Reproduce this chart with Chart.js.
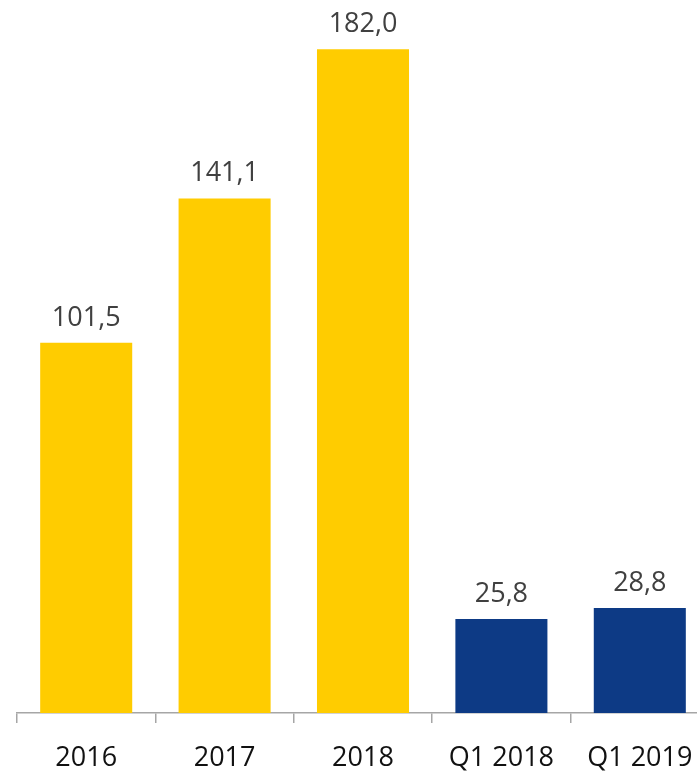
<!DOCTYPE html>
<html lang="en">
<head>
<meta charset="UTF-8" />
<title>Revenue</title>
<script src="https://cdn.jsdelivr.net/npm/chart.js"></script>
<style>
  html, body { margin: 0; padding: 0; background: #fff; overflow: hidden; }
  #wrap { width: 697px; height: 771px; overflow: hidden; }
</style>
</head>
<body>
<div id="wrap">
  <canvas id="myChart" width="709" height="771"></canvas>
</div>
<script>
  const categories = ["2016", "2017", "2018", "Q1 2018", "Q1 2019"];
  const values = [101.5, 141.1, 182.0, 25.8, 28.8];

  const YELLOW = "#FFCC00";
  const BLUE = "#0D3A85";
  const AXIS = "#a6a6a6";
  const FONT = "'Open Sans', 'Noto Sans', sans-serif";

  // value labels above each bar, decimal comma
  const valueLabels = {
    id: "valueLabels",
    afterDatasetsDraw(chart) {
      const ctx = chart.ctx;
      const meta = chart.getDatasetMeta(0);
      ctx.save();
      ctx.font = "27px " + FONT;
      ctx.fillStyle = "#404040";
      ctx.textAlign = "center";
      ctx.textBaseline = "alphabetic";
      meta.data.forEach((bar, i) => {
        const txt = values[i].toFixed(1).replace(".", ",");
        ctx.fillText(txt, bar.x, bar.y - 17);
      });
      ctx.restore();
    }
  };

  const ctx = document.getElementById("myChart").getContext("2d");
  new Chart(ctx, {
    type: "bar",
    data: {
      labels: categories,
      datasets: [{
        data: values,
        backgroundColor: (c) => categories[c.dataIndex].startsWith("Q") ? BLUE : YELLOW,
        borderWidth: 0,
        categoryPercentage: 1,
        barPercentage: 0.665
      }]
    },
    options: {
      responsive: false,
      animation: false,
      layout: { padding: { left: 17, right: 0, top: 0, bottom: 0 } },
      plugins: { legend: { display: false }, tooltip: { enabled: false } },
      scales: {
        x: {
          afterFit: (scale) => {
            // fixed axis band; no extra side padding for label overhang
            scale.height = 58;
            scale.paddingLeft = 0;
            scale.paddingRight = 0;
          },
          grid: {
            display: true,
            drawOnChartArea: false,
            drawTicks: true,
            tickLength: 10,
            color: AXIS,
            lineWidth: 1.5,
            offset: true
          },
          border: { display: true, color: AXIS, width: 1.5 },
          ticks: {
            color: "#111",
            padding: 19,
            maxRotation: 0,
            font: { family: FONT, size: 27 }
          }
        },
        y: {
          display: false,
          min: 0,
          max: 195.5
        }
      }
    },
    plugins: [valueLabels]
  });
</script>
</body>
</html>
